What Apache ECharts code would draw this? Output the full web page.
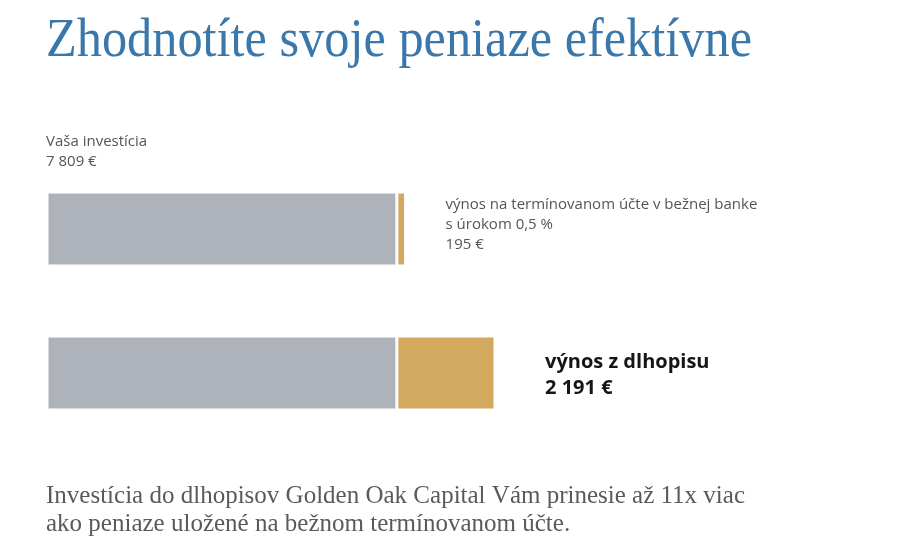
<!DOCTYPE html>
<html><head><meta charset="utf-8">
<script src="https://cdn.jsdelivr.net/npm/echarts@6/dist/echarts.min.js"></script>
<style>html,body{margin:0;padding:0;background:#fff}#c{width:904px;height:558px}</style>
</head><body><div id="c"></div>
<script>
const categories = ['Termínovaný účet', 'Dlhopis'];
const investment = [7809, 7809];
const returns = [195, 2191];
const returnLabels = ['výnos na termínovanom účte v bežnej banke\ns úrokom 0,5 %', 'výnos z dlhopisu'];
const investmentLabel = 'Vaša investícia';
const titleText = 'Zhodnotíte svoje peniaze efektívne';
const noteLines = ['Investícia do dlhopisov Golden Oak Capital Vám prinesie až 11x viac', 'ako peniaze uložené na bežnom termínovanom účte.'];

function eur(v){ return String(v).replace(/\B(?=(\d{3})+(?!\d))/g, ' ') + ' €'; }

const cv = document.createElement('canvas').getContext('2d');
function fitScale(text, font, target){ cv.font = font; return target / cv.measureText(text).width; }

const titleFont = '55px "Liberation Serif"';
const noteFont = '26px "Liberation Serif"';
const titleScale = fitScale(titleText, titleFont, 706);
const noteScale = fitScale(noteLines[0], noteFont, 699);

const SANS = 'Open Sans';
const chart = echarts.init(document.getElementById('c'), null, {renderer:'canvas'});
chart.setOption({
  animation:false,
  grid:{left:47, width:448, top:157, height:288},
  xAxis:{type:'value', min:0, max:10000, show:false},
  yAxis:{type:'category', data:categories, inverse:true, show:false},
  series:[
    {name:investmentLabel, type:'bar', stack:'t', barWidth:74,
     itemStyle:{color:'#aeb2bb', borderColor:'#fff', borderWidth:1.5},
     data: investment.map((v,i)=> i===0 ? {value:v, label:{show:true, position:[-1,-60], align:'left', verticalAlign:'top',
        formatter: investmentLabel + '\n' + eur(v), fontFamily:SANS, fontSize:15, lineHeight:20, color:'#555'}} : {value:v})
    },
    {name:'výnos', type:'bar', stack:'t', barWidth:74,
     itemStyle:{color:'#d3a960', borderColor:'#fff', borderWidth:1.5},
     data: returns.map((v,i)=> i===0 ? {value:v, label:{show:true, position:'right', distance:40, offset:[0,-4],
        formatter: returnLabels[i] + '\n' + eur(v), fontFamily:SANS, fontSize:15, lineHeight:20, color:'#555'}}
       : {value:v, label:{show:true, position:'right', distance:50, offset:[0,2],
        formatter: returnLabels[i] + '\n' + eur(v), fontFamily:SANS, fontSize:20, fontWeight:'bold', lineHeight:26, color:'#151515'}})
    }
  ],
  graphic:[
    {type:'text', x:46, y:14, scaleX:titleScale, style:{text:titleText, font:titleFont, fill:'#3a77aa', verticalAlign:'top'}},
    {type:'text', x:46, y:483, scaleX:noteScale, style:{text:noteLines[0], font:noteFont, fill:'#5a5a5a', verticalAlign:'top'}},
    {type:'text', x:46, y:511, scaleX:noteScale, style:{text:noteLines[1], font:noteFont, fill:'#5a5a5a', verticalAlign:'top'}}
  ]
});
</script></body></html>
